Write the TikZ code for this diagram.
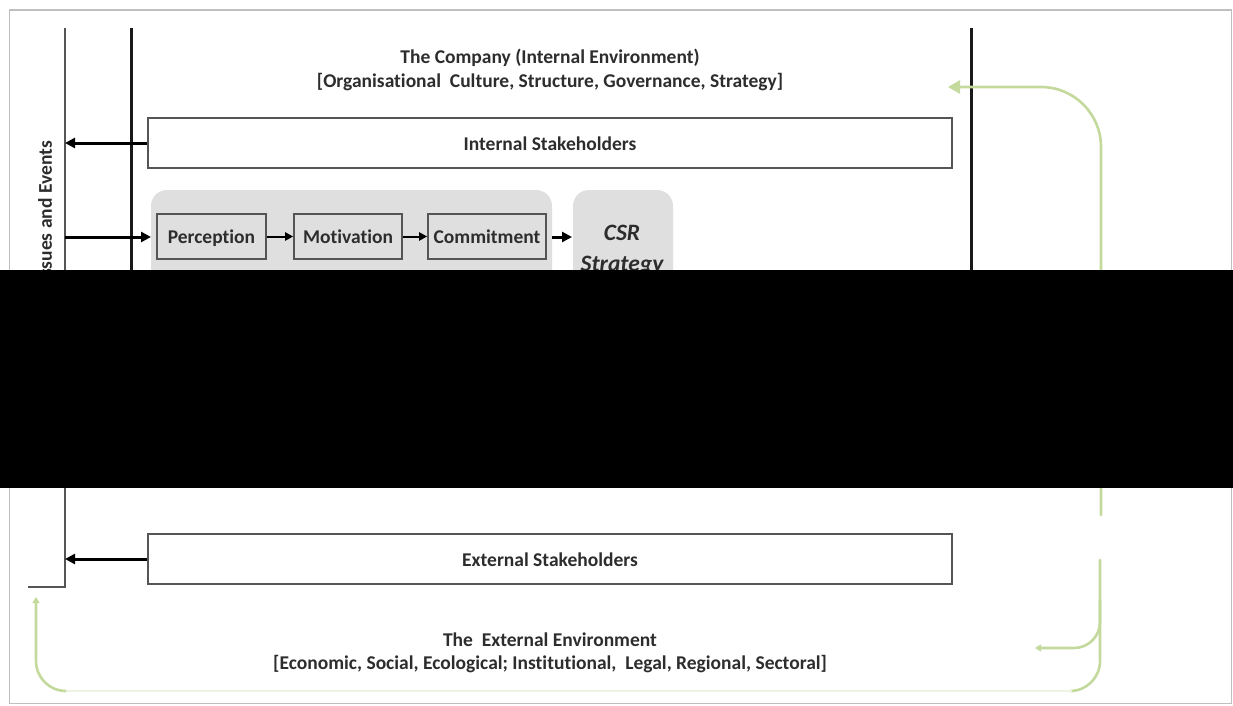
\documentclass[tikz,border=0pt]{standalone}
\usepackage{fontspec}
\setmainfont{Carlito}[Ligatures=NoCommon]
\usetikzlibrary{arrows.meta}
\definecolor{ink}{RGB}{45,45,45}
\definecolor{boxline}{RGB}{85,85,85}
\definecolor{panel}{RGB}{223,223,223}
\definecolor{leaf}{RGB}{196,218,156}
\definecolor{leafpale}{RGB}{236,243,226}
\begin{document}
\begin{tikzpicture}[x=1pt,y=-1pt,
  lbl/.style={font=\bfseries\fontsize{19.5}{24}\selectfont,text=ink,align=center,inner sep=0pt},
  stakebox/.style={draw=boxline,line width=1.8pt,minimum width=804pt,minimum height=50pt,inner sep=0pt,
    text height=15pt,text depth=0pt,font=\bfseries\fontsize{19.5}{22}\selectfont,text=ink},
  stagebox/.style={draw=boxline,line width=1.6pt,minimum height=45pt,inner sep=0pt,
    text height=14.5pt,text depth=0pt,font=\bfseries\fontsize{19.5}{22}\selectfont,text=ink},
  panelbox/.style={fill=panel,rounded corners=16pt},
  flow/.style={line width=3pt,draw=black,-{Triangle[length=10pt,width=10pt]}},
  smallflow/.style={line width=2pt,draw=black,-{Triangle[length=8pt,width=8pt]}},
  loop/.style={line width=2.6pt,draw=leaf,line cap=round},
  loophead/.style={loop,-{Triangle[length=12pt,width=13pt]}},
  loopheadsmall/.style={loop,-{Triangle[length=6pt,width=7pt]}}]

% page and its frame
\fill[white] (0,0) rectangle (1233,706);
\useasboundingbox (0,0) rectangle (1233,706);
\draw[black!25,line width=1.2pt] (9.5,10) rectangle (1231.5,703.5);

% boundaries of the company and of the environment
\draw[boxline,line width=2pt] (65,28) -- (65,587) -- (28,587);
\draw[black!90,line width=3pt] (131,28) -- (131,420);
\draw[black!90,line width=3pt] (971,28) -- (971,420);

% headings
\node[lbl] (company) at (550,58) {The Company (Internal Environment)};
\node[lbl] (companysub) at (550,82) {[Organisational~ Culture, Structure, Governance, Strategy]};
\node[lbl] (environment) at (550,640) {The~ External Environment};
\node[lbl] (environmentsub) at (550,664) {[Economic, Social, Ecological; Institutional,~ Legal, Regional, Sectoral]};

% side label
\node[lbl,rotate=90,anchor=east] (issues) at (45,141) {Issues and Events};

% stakeholders
\node[stakebox] (internal) at (550,143) {Internal Stakeholders};
\node[stakebox] (external) at (550,559) {External Stakeholders};
\coordinate (intin) at (65,143);
\coordinate (extin) at (65,559);
\draw[flow] (internal.west) -- (intin);
\draw[flow] (external.west) -- (extin);

% grey panels
\path[panelbox] (151,190) rectangle (552,340);
\path[panelbox] (573,190) rectangle (673,340);
\coordinate (panelwest) at (151,237);
\coordinate (paneleast) at (552,237);
\coordinate (csrwest) at (572,237);
\coordinate (issuesout) at (65,237);
\node[font=\bfseries\itshape\fontsize{23.5}{31}\selectfont,text=ink,align=center] (csr) at (622,250) {CSR\\Strategy};

% stages
\node[stagebox,minimum width=109pt] (perception) at (211.5,236.5) {Perception};
\node[stagebox,minimum width=108pt] (motivation) at (348,236.5) {Motivation};
\node[stagebox,minimum width=118pt] (commitment) at (487,236.5) {Commitment};
\draw[flow] (issuesout) -- (panelwest);
\draw[smallflow] (perception.east) -- (motivation.west);
\draw[smallflow] (motivation.east) -- (commitment.west);
\draw[flow] (paneleast) -- (csrwest);

% feedback loop
\coordinate (loopa) at (1101,515);
\coordinate (loopturn) at (1101,87);
\coordinate (looptip) at (948,87);
\draw[loophead,rounded corners=60pt] (loopa) -- (loopturn) -- (looptip);
\coordinate (loopb) at (1100,560);
\coordinate (loopcorner) at (1100,691);
\coordinate (loopbottom) at (1072,691);
\draw[loop,rounded corners=30pt] (loopb) -- (loopcorner) -- (loopbottom);
\coordinate (branchtop) at (1100,600);
\coordinate (branchcorner) at (1100,648);
\coordinate (branchtip) at (1035,648);
\draw[loopheadsmall,rounded corners=26pt] (branchtop) -- (branchcorner) -- (branchtip);
\coordinate (leftbottom) at (64,691);
\coordinate (leftcorner) at (36,691);
\coordinate (lefttip) at (36,597);
\draw[leafpale,line width=2pt] (loopbottom) -- (leftbottom);
\draw[loopheadsmall,rounded corners=30pt] (leftbottom) -- (leftcorner) -- (lefttip);

% redacted band
\fill[black] (0,270) rectangle (1233,488);
\end{tikzpicture}
\end{document}
